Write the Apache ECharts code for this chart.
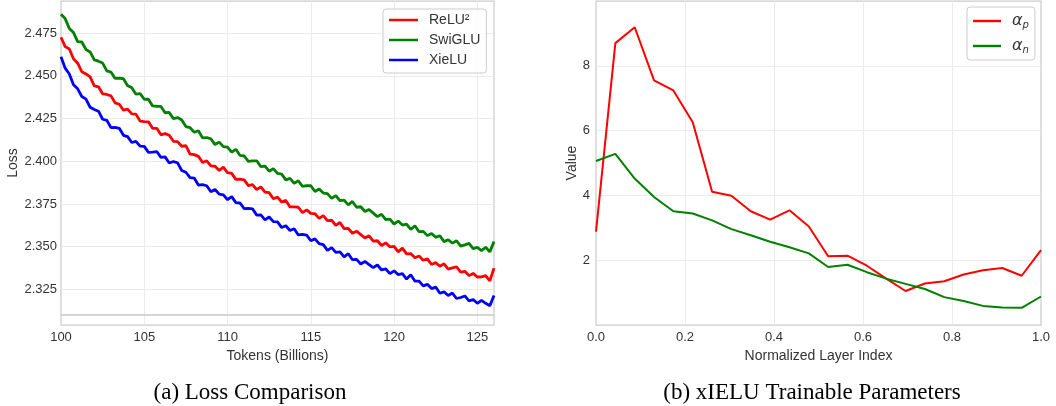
<!DOCTYPE html>
<html>
<head>
<meta charset="utf-8">
<script src="https://cdn.jsdelivr.net/npm/echarts@6/dist/echarts.min.js"></script>
<style>
html,body{margin:0;padding:0;background:#fff;}
#c{width:1056px;height:406px;}
</style>
</head>
<body>
<div id="c"></div>
<script>
// ---------- Panel (a): loss comparison ----------
const tokens = [
100,100.25,100.5,100.75,101,101.25,101.5,101.75,102,102.25,102.5,102.75,103,103.25,103.5,103.75,
104,104.25,104.5,104.75,105,105.25,105.5,105.75,106,106.25,106.5,106.75,107,107.25,107.5,107.75,
108,108.25,108.5,108.75,109,109.25,109.5,109.75,110,110.25,110.5,110.75,111,111.25,111.5,111.75,
112,112.25,112.5,112.75,113,113.25,113.5,113.75,114,114.25,114.5,114.75,115,115.25,115.5,115.75,
116,116.25,116.5,116.75,117,117.25,117.5,117.75,118,118.25,118.5,118.75,119,119.25,119.5,119.75,
120,120.25,120.5,120.75,121,121.25,121.5,121.75,122,122.25,122.5,122.75,123,123.25,123.5,123.75,
124,124.25,124.5,124.75,125,125.25,125.5,125.75,126];

const lossRelu2 = [
2.4726,2.4671,2.4657,2.4600, 2.4574,2.4524,2.4511,2.4494, 2.4441,2.4436,2.4395,2.4391, 2.4383,2.4342,2.4334,2.4299,
2.4305,2.4277,2.4276,2.4235, 2.4232,2.4231,2.4193,2.4193, 2.4155,2.4162,2.4152,2.4117, 2.4115,2.4088,2.4091,2.4042,
2.4039,2.4029,2.3993,2.4003, 2.3973,2.3971,2.3946,2.3966, 2.3933,2.3929,2.3894,2.3895, 2.3891,2.3858,2.3863,2.3834,
2.3850,2.3820,2.3816,2.3781, 2.3790,2.3762,2.3771,2.3733, 2.3733,2.3731,2.3700,2.3716, 2.3695,2.3693,2.3666,2.3682,
2.3653,2.3655,2.3625,2.3642, 2.3606,2.3607,2.3579,2.3591, 2.3571,2.3551,2.3564,2.3533, 2.3535,2.3507,2.3523,2.3499,
2.3502,2.3470,2.3492,2.3458, 2.3460,2.3435,2.3446,2.3421, 2.3429,2.3396,2.3407,2.3386, 2.3400,2.3369,2.3376,2.3383,
2.3351,2.3356,2.3331,2.3344, 2.3323,2.3324,2.3331,2.3300, 2.3375];

const lossSwiglu = [
2.4860,2.4835,2.4777,2.4753, 2.4700,2.4698,2.4654,2.4640, 2.4593,2.4586,2.4575,2.4529, 2.4522,2.4485,2.4487,2.4483,
2.4442,2.4431,2.4393,2.4396, 2.4363,2.4363,2.4324,2.4322, 2.4321,2.4284,2.4286,2.4249, 2.4256,2.4242,2.4203,2.4197,
2.4170,2.4179,2.4137,2.4139, 2.4131,2.4098,2.4112,2.4086, 2.4083,2.4054,2.4070,2.4034, 2.4031,2.3999,2.4003,2.4003,
2.3969,2.3972,2.3942,2.3957, 2.3929,2.3925,2.3891,2.3900, 2.3871,2.3886,2.3853,2.3858, 2.3857,2.3823,2.3838,2.3814,
2.3811,2.3783,2.3799,2.3770, 2.3773,2.3745,2.3765,2.3731, 2.3734,2.3706,2.3718,2.3697, 2.3676,2.3690,2.3659,2.3662,
2.3633,2.3650,2.3627,2.3632, 2.3601,2.3623,2.3588,2.3590, 2.3565,2.3578,2.3555,2.3564, 2.3530,2.3541,2.3521,2.3535,
2.3504,2.3511,2.3520,2.3489, 2.3496,2.3477,2.3497,2.3470, 2.3530];

const lossXielu = [
2.4612,2.4545,2.4511,2.4448, 2.4424,2.4379,2.4364,2.4316, 2.4303,2.4293,2.4246,2.4240, 2.4197,2.4198,2.4193,2.4152,
2.4144,2.4110,2.4117,2.4089, 2.4087,2.4052,2.4054,2.4057, 2.4023,2.4026,2.3990,2.3999, 2.3991,2.3946,2.3936,2.3904,
2.3902,2.3861,2.3864,2.3857, 2.3822,2.3835,2.3808,2.3803, 2.3775,2.3793,2.3758,2.3756, 2.3723,2.3725,2.3722,2.3685,
2.3686,2.3657,2.3674,2.3647, 2.3645,2.3612,2.3623,2.3595, 2.3605,2.3569,2.3572,2.3568, 2.3535,2.3546,2.3518,2.3512,
2.3479,2.3495,2.3467,2.3470, 2.3441,2.3459,2.3424,2.3426, 2.3399,2.3414,2.3396,2.3378, 2.3393,2.3364,2.3370,2.3343,
2.3359,2.3337,2.3342,2.3311, 2.3336,2.3299,2.3299,2.3271, 2.3280,2.3255,2.3264,2.3228, 2.3236,2.3215,2.3229,2.3197,
2.3203,2.3212,2.3183,2.3191, 2.3169,2.3186,2.3169,2.3155, 2.3215];

const lossTicks = [2.325, 2.35, 2.375, 2.4, 2.425, 2.45, 2.475];
const baselineLoss = [2.3127];

// ---------- Panel (b): xIELU trainable parameters ----------
const layerIndex = [0,0.0435,0.0870,0.1304,0.1739,0.2174,0.2609,0.3043,0.3478,0.3913,0.4348,0.4783,
  0.5217,0.5652,0.6087,0.6522,0.6957,0.7391,0.7826,0.8261,0.8696,0.9130,0.9565,1.0];
const alphaP = [2.88,8.70,9.19,7.55,7.24,6.26,4.11,3.99,3.51,3.25,3.54,3.04,
  2.12,2.14,1.83,1.43,1.05,1.28,1.35,1.56,1.69,1.76,1.52,2.31];
const alphaN = [5.06,5.28,4.52,3.95,3.51,3.44,3.23,2.96,2.77,2.57,2.40,2.21,
  1.79,1.86,1.63,1.43,1.27,1.11,0.86,0.74,0.59,0.54,0.53,0.88];

const captions = ['(a) Loss Comparison', '(b) xIELU Trainable Parameters'];

const FONT = 'Liberation Sans';
const TXT = '#333333';
const GRIDC = '#ebebeb';
const FRAME = '#cccccc';
const LINE_ICON = 'path://M0,0L29,0L29,2.5L0,2.5Z';

function pairs(xs, ys){ return xs.map((x,i)=>[x, ys[i]]); }

const chart = echarts.init(document.getElementById('c'), null, {renderer:'canvas'});

const axisLabelBase = {color: TXT, fontSize: 13, fontFamily: FONT};
const nameStyle = {color: TXT, fontSize: 14, fontFamily: FONT};

const option = {
  backgroundColor: '#ffffff',
  animation: false,
  grid: [
    {left: 61, top: 1, width: 433, height: 324, show: true, borderColor: FRAME, borderWidth: 1.25, containLabel: false},
    {left: 596, top: 1, width: 445, height: 324, show: true, borderColor: FRAME, borderWidth: 1.25, containLabel: false}
  ],
  xAxis: [
    {
      gridIndex: 0, type: 'value', min: 100, max: 126, interval: 5,
      axisLine: {show: false}, axisTick: {show: false},
      axisLabel: Object.assign({margin: 6, formatter: v => String(v)}, axisLabelBase),
      splitLine: {show: true, showMinLine: false, showMaxLine: false, lineStyle: {color: GRIDC, width: 1}},
      name: 'Tokens (Billions)', nameLocation: 'middle', nameGap: 19, nameTextStyle: nameStyle
    },
    {
      gridIndex: 1, type: 'value', min: 0, max: 1, interval: 0.2,
      axisLine: {show: false}, axisTick: {show: false},
      axisLabel: Object.assign({margin: 6, formatter: v => v.toFixed(1)}, axisLabelBase),
      splitLine: {show: true, showMinLine: false, showMaxLine: false, lineStyle: {color: GRIDC, width: 1}},
      name: 'Normalized Layer Index', nameLocation: 'middle', nameGap: 19, nameTextStyle: nameStyle
    }
  ],
  yAxis: [
    {
      gridIndex: 0, type: 'value', min: 2.3042, max: 2.4938,
      axisLine: {show: false},
      axisTick: {show: false, customValues: lossTicks},
      axisLabel: Object.assign({margin: 4, customValues: lossTicks, formatter: v => v.toFixed(3)}, axisLabelBase),
      splitLine: {show: true, lineStyle: {color: GRIDC, width: 1}},
      name: 'Loss', nameLocation: 'middle', nameGap: 41, nameTextStyle: nameStyle
    },
    {
      gridIndex: 1, type: 'value', min: 0, max: 10, interval: 2,
      axisLine: {show: false}, axisTick: {show: false},
      axisLabel: Object.assign({margin: 6, formatter: v => (v === 0 || v === 10) ? '' : String(v)}, axisLabelBase),
      splitLine: {show: true, showMinLine: false, showMaxLine: false, lineStyle: {color: GRIDC, width: 1}},
      name: 'Value', nameLocation: 'middle', nameGap: 17, nameTextStyle: nameStyle
    }
  ],
  legend: [
    {
      orient: 'vertical', left: 383, top: 9,
      data: ['ReLU²', 'SwiGLU', 'XieLU'],
      icon: LINE_ICON,
      itemWidth: 29, itemHeight: 14, itemGap: 6,
      padding: [4, 6, 6, 6],
      backgroundColor: 'rgba(255,255,255,0.85)', borderColor: FRAME, borderWidth: 1, borderRadius: 3,
      textStyle: {color: TXT, fontSize: 14, fontFamily: FONT, padding: [0, 0, 0, 6]}
    },
    {
      orient: 'vertical', left: 967, top: 7,
      data: ['alpha_p', 'alpha_n'],
      icon: LINE_ICON,
      itemWidth: 28, itemHeight: 14, itemGap: 8,
      padding: [6, 6, 5, 6],
      backgroundColor: 'rgba(255,255,255,0.85)', borderColor: FRAME, borderWidth: 1, borderRadius: 3,
      formatter: n => n === 'alpha_p' ? '{a|α}{s|p}' : '{a|α}{s|n}',
      textStyle: {
        color: TXT, fontSize: 15, padding: [0, 0, 0, 6],
        rich: {
          a: {fontSize: 16, fontStyle: 'italic', fontFamily: 'DejaVu Sans', color: TXT},
          s: {fontSize: 10, fontStyle: 'italic', fontFamily: 'DejaVu Sans', color: TXT, padding: [8, 0, 0, 0]}
        }
      }
    }
  ],
  series: [
    {
      name: 'ReLU²', type: 'line', xAxisIndex: 0, yAxisIndex: 0, data: pairs(tokens, lossRelu2),
      showSymbol: false, symbol: 'none', lineStyle: {color: '#ff0000', width: 2.8}, itemStyle: {color: '#ff0000'},
      markLine: {silent: true, symbol: 'none', label: {show: false}, animation: false,
        lineStyle: {color: '#c9c9c9', width: 1.6, type: 'solid'},
        data: baselineLoss.map(v => ({yAxis: v}))}
    },
    {
      name: 'SwiGLU', type: 'line', xAxisIndex: 0, yAxisIndex: 0, data: pairs(tokens, lossSwiglu),
      showSymbol: false, symbol: 'none', lineStyle: {color: '#008000', width: 2.8}, itemStyle: {color: '#008000'}
    },
    {
      name: 'XieLU', type: 'line', xAxisIndex: 0, yAxisIndex: 0, data: pairs(tokens, lossXielu),
      showSymbol: false, symbol: 'none', lineStyle: {color: '#0000ff', width: 2.8}, itemStyle: {color: '#0000ff'}
    },
    {
      name: 'alpha_p', type: 'line', xAxisIndex: 1, yAxisIndex: 1, data: pairs(layerIndex, alphaP),
      showSymbol: false, symbol: 'none', lineStyle: {color: '#ff0000', width: 2}, itemStyle: {color: '#ff0000'}
    },
    {
      name: 'alpha_n', type: 'line', xAxisIndex: 1, yAxisIndex: 1, data: pairs(layerIndex, alphaN),
      showSymbol: false, symbol: 'none', lineStyle: {color: '#008000', width: 2}, itemStyle: {color: '#008000'}
    }
  ],
  graphic: [
    {type: 'text', x: 250, y: 393, silent: true,
      style: {text: captions[0], fill: '#000', font: '23px "Liberation Serif"', textAlign: 'center', textVerticalAlign: 'middle', verticalAlign: 'middle'}},
    {type: 'text', x: 812, y: 393, silent: true,
      style: {text: captions[1], fill: '#000', font: '23px "Liberation Serif"', textAlign: 'center', textVerticalAlign: 'middle', verticalAlign: 'middle'}}
  ]
};
chart.setOption(option);
</script>
</body>
</html>
